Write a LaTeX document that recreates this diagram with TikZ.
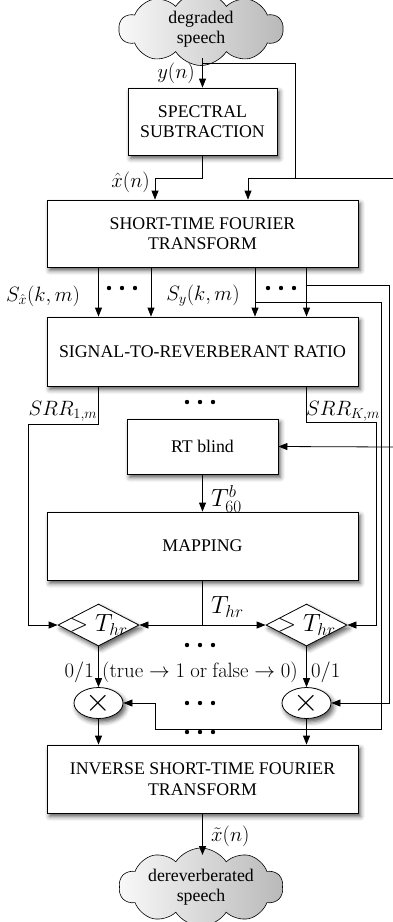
\documentclass[tikz,border=0pt]{standalone}
\usepackage[no-math]{fontspec}
\usepackage{graphicx}
\setmainfont{Liberation Serif}
\usetikzlibrary{shapes.geometric,shapes.symbols,arrows.meta,shadows.blur}

\begin{document}
\begin{tikzpicture}[x=1pt,y=-1pt,
  font=\fontsize{17.8}{20.5}\selectfont,
  wire/.style={line width=0.8pt},
  flow/.style={wire,-{Triangle[length=9pt,width=7pt]}},
  softshadow/.style={blur shadow={shadow xshift=2.5pt,shadow yshift=-3.5pt,shadow blur radius=4.5pt,shadow opacity=65}},
  block/.style={draw,line width=0.8pt,fill=white,align=center,inner sep=0pt,softshadow},
  speech/.style={cloud,cloud puffs=10,cloud puff arc=115,aspect=2.7,draw,line width=0.6pt,
    left color=gray!5,right color=gray!55,align=center,minimum width=164pt,minimum height=60pt,inner sep=0pt},
  test/.style={diamond,draw,line width=0.8pt,fill=white,minimum width=81pt,minimum height=42pt,inner sep=0pt,softshadow},
  mult/.style={ellipse,draw,line width=0.8pt,fill=white,minimum width=49pt,minimum height=29pt,inner sep=0pt,softshadow},
  dotrow/.style={rectangle,minimum width=34pt,minimum height=6pt,inner sep=0pt,
    path picture={\fill (path picture bounding box.center) circle (2.2pt) ++(-13pt,0pt) circle (2.2pt) ++(26pt,0pt) circle (2.2pt);}},
  lbl/.style={inner sep=0pt,font=\fontsize{21}{24}\selectfont},
  biglbl/.style={inner sep=0pt,font=\fontsize{23.5}{26}\selectfont}
]
\useasboundingbox (0,0) rectangle (393,922);

% processing chain
\node[speech] (src) at (201,29) {degraded\\speech};
\node[block,minimum width=149pt,minimum height=67pt] (ss) at (202.5,121.5) {SPECTRAL\\SUBTRACTION};
\node[block,minimum width=311pt,minimum height=67pt] (stft) at (202.5,233.5) {SHORT-TIME FOURIER\\TRANSFORM};
\node[block,minimum width=311pt,minimum height=69pt] (srr) at (202.5,351.5) {SIGNAL-TO-REVERBERANT RATIO};
\node[block,minimum width=151pt,minimum height=55pt] (rt) at (202.5,446.5) {RT blind};
\node[block,minimum width=311pt,minimum height=68pt] (map) at (202.5,546) {MAPPING};
\node[test] (d1) at (98.5,625) {\makebox[0pt]{\fontsize{23.5}{26}\selectfont$>T_{hr}$}};
\node[test] (d2) at (306.5,625) {\makebox[0pt]{\fontsize{23.5}{26}\selectfont$>T_{hr}$}};
\node[mult] (m1) at (98.5,703) {\scalebox{1.9}{$\times$}};
\node[mult] (m2) at (306.5,703) {\scalebox{1.9}{$\times$}};
\node[block,minimum width=311pt,minimum height=68pt] (istft) at (202.5,779) {INVERSE SHORT-TIME FOURIER\\TRANSFORM};
\node[speech,minimum height=64pt] (dst) at (201,887) {dereverberated\\speech};

% dots for the omitted bins
\node[dotrow] (dA) at (122,288) {};
\node[dotrow] (dB) at (281,288) {};
\node[dotrow] (dC) at (200,402) {};
\node[dotrow] (dD) at (200,645) {};
\node[dotrow] (dE) at (200,703) {};
\node[dotrow] (dF) at (200,732) {};

% helper coordinates
\coordinate (j1) at (202.5,63);
\coordinate (k1) at (295,178);
\coordinate (sIn) at (248,178);
\coordinate (eTop) at (393,178);
\coordinate (eRT) at (393,447);
\coordinate (xh) at (202.5,178);
\coordinate (xIn) at (155,178);
\coordinate (t1) at (98.5,0);
\coordinate (t2) at (151,0);
\coordinate (t3) at (255,0);
\coordinate (t4) at (306.5,0);
\coordinate (f4) at (306.5,285);
\coordinate (o4) at (389,285);
\coordinate (f3) at (255,302);
\coordinate (o3) at (381,302);
\coordinate (o3b) at (381,729);
\coordinate (o3c) at (155,729);
\coordinate (s1) at (98.5,424);
\coordinate (s1b) at (28,424);
\coordinate (sK) at (306.5,422);
\coordinate (sKb) at (376,422);
\coordinate (th) at (202.5,625);
\coordinate (ySrc) at (202.5,58);
\coordinate (zDst) at (202.5,855);

% input side
\draw[flow] (ySrc) -- (ss.north);
\draw[wire] (j1) -| (k1);
\draw[wire] (eTop) -- (k1);
\draw[flow] (k1) -- (sIn) -- (sIn |- stft.north);
\draw[flow] (ss.south) -- (xh) -- (xIn) -- (xIn |- stft.north);

% STFT bins into the SRR block
\draw[flow] (stft.south -| t1) -- (srr.north -| t1);
\draw[flow] (stft.south -| t2) -- (srr.north -| t2);
\draw[flow] (stft.south -| t3) -- (srr.north -| t3);
\draw[flow] (stft.south -| t4) -- (srr.north -| t4);

% bins routed to the multipliers
\draw[flow] (f4) -- (o4) |- (m2.east);
\draw[flow] (f3) -- (o3) -- (o3b) -- (o3c) |- (m1.east);

% SRR values to the threshold tests
\draw[flow] (srr.south -| t1) -- (s1) -- (s1b) |- (d1.west);
\draw[flow] (srr.south -| t4) -- (sK) -- (sKb) |- (d2.east);

% reverberation time and threshold
\draw[flow] (eRT) -- (rt.east);
\draw[flow] (rt.south) -- (map.north);
\draw[wire] (map.south) -- (th);
\draw[flow] (th) -- (d1.east);
\draw[flow] (th) -- (d2.west);

% masks, multiplication, resynthesis
\draw[flow] (d1.south) -- (m1.north);
\draw[flow] (d2.south) -- (m2.north);
\draw[flow] (m1.south) -- (istft.north -| m1);
\draw[flow] (m2.south) -- (istft.north -| m2);
\draw[flow] (istft.south) -- (zDst);

% signal labels
\node[lbl,anchor=east] (ly) at (195,73) {$y(n)$};
\node[lbl,anchor=east] (lxh) at (150,182) {$\hat{x}(n)$};
\node[lbl] (lSx) at (43,296) {$S_{\hat{x}}(k,m)$};
\node[lbl] (lSy) at (203,296) {$S_{y}(k,m)$};
\node[lbl] (lR1) at (63,411) {$SRR_{1,m}$};
\node[lbl,anchor=west] (lRK) at (306,411) {$SRR_{K,m}$};
\node[biglbl,anchor=west] (lT60) at (211,499) {$T_{60}^{b}$};
\node[biglbl,anchor=west] (lThr) at (211,607) {$T_{hr}$};
\node[lbl,anchor=east] (l01a) at (94,672) {$0/1$};
\node[lbl] (ltf) at (200,672) {$(\mathrm{true}\rightarrow 1\mathrm{~or~false}\rightarrow 0)$};
\node[lbl,anchor=west] (l01b) at (311,672) {$0/1$};
\node[lbl,anchor=west] (lxt) at (211,836) {$\tilde{x}(n)$};
\end{tikzpicture}
\end{document}
